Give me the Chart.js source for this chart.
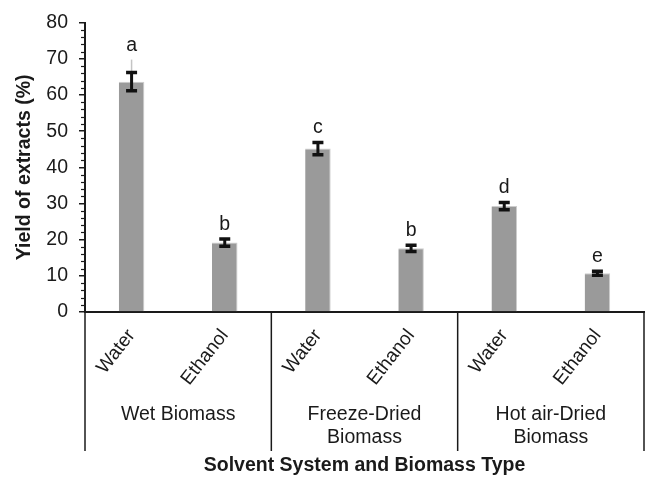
<!DOCTYPE html>
<html lang="en">
<head>
  <meta charset="UTF-8" />
  <title>Yield of extracts</title>
  <style>
    body { margin: 0; background: #fff; }
    #wrap { width: 645px; height: 477px; }
  </style>
</head>
<body>
  <div id="wrap">
    <canvas id="yieldChart" width="645" height="477"></canvas>
  </div>

  <script src="https://cdn.jsdelivr.net/npm/chart.js"></script>
  <script>
    // values
    const categories = ['Water', 'Ethanol', 'Water', 'Ethanol', 'Water', 'Ethanol'];
    const groups = [['Wet Biomass'], ['Freeze-Dried', 'Biomass'], ['Hot air-Dried', 'Biomass']];
    const yieldMean = [63.7, 19.2, 45.2, 17.6, 29.3, 10.7];
    const yieldErr = [2.5, 1.0, 1.7, 0.85, 1.0, 0.55];
    const faintTop = [69.8, null, null, null, null, null];
    const letters = ['a', 'b', 'c', 'b', 'd', 'e'];
    const yMin = 0, yMax = 80, yStep = 10, yMinorStep = 2;

    const FONT = "'Liberation Sans', Arial, sans-serif";
    const INK = '#1a1a1a';

    const decor = {
      id: 'decor',
      afterDatasetsDraw(chart) {
        const { ctx, chartArea: a, scales: { x, y } } = chart;
        ctx.save();

        // faint grey whisker on the first bar
        ctx.strokeStyle = '#c4c4c4';
        ctx.lineWidth = 1.5;
        faintTop.forEach((t, i) => {
          if (t == null) return;
          const px = x.getPixelForValue(i);
          ctx.beginPath();
          ctx.moveTo(px, y.getPixelForValue(yieldMean[i]));
          ctx.lineTo(px, y.getPixelForValue(t));
          ctx.stroke();
        });

        // error bars
        ctx.strokeStyle = '#111';
        yieldMean.forEach((m, i) => {
          const px = x.getPixelForValue(i);
          const top = y.getPixelForValue(m + yieldErr[i]);
          const bot = y.getPixelForValue(m - yieldErr[i]);
          ctx.lineWidth = 3;
          ctx.beginPath();
          ctx.moveTo(px, top);
          ctx.lineTo(px, bot);
          ctx.stroke();
          ctx.lineWidth = 3.5;
          ctx.beginPath();
          ctx.moveTo(px - 5.5, top);
          ctx.lineTo(px + 5.5, top);
          ctx.moveTo(px - 5.5, bot);
          ctx.lineTo(px + 5.5, bot);
          ctx.stroke();
        });

        // significance letters
        ctx.fillStyle = INK;
        ctx.font = '19.5px ' + FONT;
        ctx.textAlign = 'center';
        ctx.textBaseline = 'alphabetic';
        letters.forEach((l, i) => {
          const hi = Math.max(yieldMean[i] + yieldErr[i], faintTop[i] || 0);
          ctx.fillText(l, x.getPixelForValue(i), y.getPixelForValue(hi) - 9);
        });

        // minor ticks on the value axis
        ctx.strokeStyle = INK;
        ctx.lineWidth = 1.2;
        for (let v = yMin; v <= yMax; v += yMinorStep) {
          if (v % yStep === 0) continue;
          const py = Math.round(y.getPixelForValue(v)) + 0.5;
          ctx.beginPath();
          ctx.moveTo(a.left - 4, py);
          ctx.lineTo(a.left, py);
          ctx.stroke();
        }

        // group separators below the axis
        const step = (a.right - a.left) / categories.length;
        ctx.lineWidth = 1.5;
        [0, 2, 4, 6].forEach(k => {
          const px = a.left + k * step;
          ctx.beginPath();
          ctx.moveTo(px, a.bottom);
          ctx.lineTo(px, 451);
          ctx.stroke();
        });

        // group labels
        ctx.textBaseline = 'middle';
        groups.forEach((g, gi) => {
          const cx = a.left + (gi * 2 + 1) * step;
          g.forEach((line, li) => ctx.fillText(line, cx, 415 + li * 23));
        });

        ctx.restore();
      }
    };

    new Chart(document.getElementById('yieldChart'), {
      type: 'bar',
      data: {
        labels: categories,
        datasets: [{
          data: yieldMean,
          backgroundColor: '#9a9a9a',
          borderColor: '#cdcdcd',
          borderWidth: { top: 1, right: 1, left: 0, bottom: 0 },
          borderSkipped: false,
          barPercentage: 0.274,
          categoryPercentage: 1
        }]
      },
      options: {
        responsive: false,
        animation: false,
        layout: { padding: { top: 22, right: 1, left: 0, bottom: 0 } },
        plugins: { legend: { display: false }, tooltip: { enabled: false } },
        scales: {
          x: {
            grid: { display: false, drawTicks: false },
            border: { display: true, color: INK, width: 2 },
            ticks: {
              color: INK, font: { family: FONT, size: 19 },
              minRotation: 52, maxRotation: 52, autoSkip: false, padding: 13
            },
            title: {
              display: true, text: 'Solvent System and Biomass Type', color: INK,
              font: { family: FONT, size: 19.5, weight: 'bold' }, padding: { top: 0, bottom: 0 }
            },
            afterFit(s) { s.height = 165; }
          },
          y: {
            min: yMin, max: yMax,
            grid: { drawOnChartArea: false, drawTicks: true, tickLength: 6, color: INK, lineWidth: 1.5 },
            border: { display: true, color: INK, width: 2 },
            ticks: { stepSize: yStep, color: INK, font: { family: FONT, size: 19.5 }, padding: 11 },
            title: {
              display: true, text: 'Yield of extracts (%)', color: INK,
              font: { family: FONT, size: 19.5, weight: 'bold' }, padding: { top: 13, bottom: 0 }
            },
            afterFit(s) { s.width = 85; }
          }
        }
      },
      plugins: [decor]
    });
  </script>
</body>
</html>
